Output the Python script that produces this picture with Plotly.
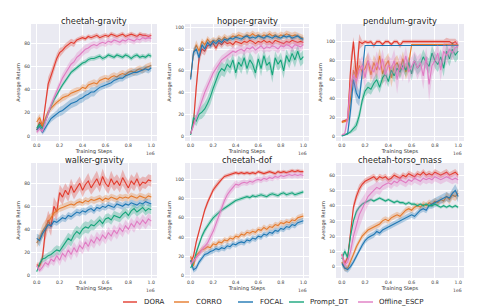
import plotly.graph_objects as go

steps = [0, 25000, 50000, 75000, 100000, 125000, 150000, 175000, 200000, 225000,
         250000, 275000, 300000, 325000, 350000, 375000, 400000, 425000, 450000, 475000,
         500000, 525000, 550000, 575000, 600000, 625000, 650000, 675000, 700000, 725000,
         750000, 775000, 800000, 825000, 850000, 875000, 900000, 925000, 950000, 975000,
         1000000]

methods = ["DORA", "CORRO", "FOCAL", "Prompt_DT", "Offline_ESCP"]
titles = ["cheetah-gravity", "hopper-gravity", "pendulum-gravity",
          "walker-gravity", "cheetah-dof", "cheetah-torso_mass"]
xtick_vals = [0, 200000, 400000, 600000, 800000, 1000000]
xtick_text = ["0.0", "0.2", "0.4", "0.6", "0.8", "1.0"]

# ---------------- cheetah-gravity ----------------
cg_dora = [5, 12, 8, 28, 45, 52, 60, 67, 72, 74, 77, 79, 81, 80, 83, 84, 85, 84, 86, 85,
           86, 87, 85, 86, 87, 86, 88, 87, 86, 87, 88, 86, 87, 88, 87, 86, 88, 87, 87, 86, 87]
cg_corro = [12, 16, 9, 15, 21, 24, 27, 29, 31, 33, 34, 35, 37, 38, 39, 40, 42, 41, 44, 45,
            46, 45, 48, 49, 50, 49, 51, 52, 51, 53, 54, 53, 55, 56, 55, 57, 58, 57, 59, 60, 61]
cg_focal = [5, 8, 3, 7, 12, 15, 17, 19, 21, 22, 24, 26, 28, 29, 30, 32, 33, 35, 36, 38,
            38, 40, 42, 43, 44, 45, 46, 48, 49, 50, 50, 52, 53, 54, 55, 55, 56, 57, 58, 57, 59]
cg_prompt = [7, 10, 6, 13, 20, 26, 31, 36, 40, 44, 48, 51, 55, 57, 59, 61, 63, 64, 66, 67,
             67, 68, 69, 67, 68, 70, 69, 68, 70, 69, 68, 70, 69, 67, 69, 70, 68, 69, 68, 70, 69]
cg_escp = [3, 6, 4, 12, 20, 27, 33, 39, 45, 50, 54, 58, 62, 64, 68, 70, 73, 75, 76, 78,
           79, 78, 80, 81, 80, 82, 81, 83, 82, 81, 83, 82, 84, 83, 82, 84, 83, 85, 84, 85, 84]
cg_dora_sd = [2, 3, 3, 5, 6, 5, 5, 4, 4, 3, 3, 3, 3, 3, 2, 2, 2, 2, 2, 2,
              2, 2, 2, 2, 2, 2, 2, 2, 2, 2, 2, 2, 2, 2, 2, 2, 2, 2, 2, 2, 2]
cg_corro_sd = [3, 3, 2, 3, 3, 3, 3, 2, 3, 3, 3, 2, 3, 3, 3, 2, 3, 3, 3, 3,
               3, 3, 3, 3, 3, 3, 3, 3, 3, 3, 3, 3, 3, 3, 3, 3, 3, 3, 3, 3, 3]
cg_focal_sd = [2, 2, 2, 3, 3, 3, 3, 3, 4, 4, 4, 4, 4, 4, 4, 4, 4, 4, 4, 4,
               4, 3, 3, 3, 3, 3, 3, 3, 3, 3, 3, 3, 3, 3, 3, 3, 3, 3, 3, 3, 3]
cg_prompt_sd = [2, 2, 2, 2, 2, 2, 2, 2, 2, 2, 2, 2, 2, 2, 2, 2, 2, 2, 2, 2,
                2, 2, 2, 2, 2, 2, 2, 2, 2, 2, 2, 2, 2, 2, 2, 2, 2, 2, 2, 2, 2]
cg_escp_sd = [2, 2, 2, 3, 3, 3, 3, 3, 4, 4, 4, 4, 4, 4, 4, 4, 4, 4, 4, 3,
              3, 3, 3, 3, 3, 3, 3, 3, 3, 3, 3, 3, 3, 3, 3, 3, 3, 3, 3, 3, 3]

# ---------------- hopper-gravity ----------------
hg_dora = [2, 12, 45, 72, 80, 78, 83, 84, 85, 81, 86, 84, 87, 85, 86, 84, 87, 86, 85, 87,
           86, 88, 87, 85, 87, 86, 88, 86, 87, 85, 88, 87, 86, 85, 87, 86, 88, 87, 86, 87, 86]
hg_corro = [54, 76, 84, 78, 87, 84, 89, 86, 88, 87, 90, 88, 91, 89, 90, 92, 91, 93, 92, 91,
            93, 92, 94, 92, 93, 91, 93, 92, 94, 92, 93, 91, 93, 92, 94, 93, 92, 93, 92, 91, 90]
hg_focal = [52, 77, 80, 72, 84, 80, 86, 83, 87, 85, 88, 86, 89, 88, 90, 89, 91, 90, 89, 91,
            92, 90, 91, 90, 92, 91, 90, 92, 91, 90, 92, 91, 90, 92, 91, 92, 90, 91, 92, 90, 89]
hg_prompt = [1, 17, 14, 20, 22, 25, 30, 36, 44, 52, 58, 62, 60, 66, 63, 70, 58, 68, 64, 72,
             62, 70, 66, 58, 71, 62, 74, 65, 68, 56, 72, 66, 70, 60, 74, 68, 76, 70, 78, 70, 73]
hg_escp = [2, 10, 18, 26, 34, 40, 46, 52, 58, 62, 66, 70, 72, 74, 76, 78, 77, 79, 80, 78,
           81, 80, 82, 79, 81, 83, 80, 82, 81, 83, 82, 80, 83, 82, 84, 83, 81, 84, 83, 82, 84]
hg_dora_sd = [1, 4, 8, 6, 4, 4, 3, 3, 3, 3, 3, 3, 3, 3, 3, 3, 3, 3, 3, 3,
              3, 3, 3, 3, 3, 3, 3, 3, 3, 3, 3, 3, 3, 3, 3, 3, 3, 3, 3, 3, 3]
hg_corro_sd = [3, 4, 4, 4, 3, 3, 3, 3, 3, 3, 3, 3, 3, 3, 3, 3, 3, 3, 3, 3,
               3, 3, 3, 3, 3, 3, 3, 3, 3, 3, 3, 3, 3, 3, 3, 3, 3, 3, 3, 3, 3]
hg_focal_sd = [3, 4, 4, 4, 3, 3, 3, 3, 3, 3, 3, 3, 2, 2, 2, 2, 2, 2, 2, 2,
               2, 2, 2, 2, 2, 2, 2, 2, 2, 2, 2, 2, 2, 2, 2, 2, 2, 2, 2, 2, 2]
hg_prompt_sd = [1, 4, 5, 5, 6, 6, 6, 7, 7, 7, 7, 6, 6, 6, 6, 6, 7, 6, 7, 6,
                6, 7, 7, 6, 6, 7, 6, 6, 7, 7, 6, 6, 7, 7, 6, 6, 6, 7, 6, 6, 6]
hg_escp_sd = [1, 3, 4, 5, 6, 6, 6, 6, 5, 5, 5, 4, 4, 4, 4, 4, 4, 4, 4, 4,
              4, 4, 4, 4, 4, 4, 4, 4, 4, 4, 4, 4, 4, 4, 4, 4, 4, 4, 4, 4, 4]

# ---------------- pendulum-gravity ----------------
pg_dora = [16, 17, 18, 70, 100, 62, 100, 98, 100, 99, 100, 96, 100, 100, 97, 100, 100, 97, 100, 100,
           96, 100, 100, 100, 100, 100, 100, 100, 100, 100, 100, 100, 100, 100, 100, 100, 100, 100, 98, 100, 96]
pg_corro = [15, 16, 17, 40, 70, 62, 75, 68, 72, 80, 65, 78, 70, 85, 66, 75, 80, 62, 74, 78,
            70, 82, 68, 76, 97, 97, 97, 97, 97, 97, 97, 97, 97, 97, 97, 97, 97, 97, 97, 97, 97]
pg_focal = [1, 2, 3, 28, 60, 46, 40, 66, 96, 96, 96, 96, 96, 96, 96, 96, 96, 96, 96, 96,
            96, 96, 96, 96, 96, 96, 96, 96, 96, 96, 96, 96, 96, 96, 96, 96, 96, 96, 96, 96, 96]
pg_prompt = [1, 2, 3, 5, 8, 12, 22, 38, 48, 52, 50, 56, 60, 52, 62, 66, 58, 70, 64, 72,
             68, 75, 70, 78, 66, 80, 72, 76, 84, 78, 74, 88, 80, 76, 84, 72, 90, 82, 92, 86, 90]
pg_escp = [2, 3, 20, 55, 65, 58, 70, 75, 62, 80, 72, 68, 78, 70, 82, 65, 75, 72, 80, 60,
           77, 70, 85, 68, 74, 80, 72, 78, 64, 84, 55, 75, 80, 88, 70, 90, 85, 92, 88, 94, 95]
pg_dora_sd = [1, 1, 2, 15, 5, 15, 8, 3, 2, 2, 2, 3, 2, 2, 2, 2, 2, 2, 2, 2,
              3, 2, 2, 2, 2, 2, 2, 2, 2, 2, 2, 2, 2, 2, 2, 2, 4, 3, 5, 3, 4]
pg_corro_sd = [1, 1, 2, 10, 8, 8, 8, 8, 10, 8, 8, 8, 10, 8, 12, 8, 8, 10, 8, 8,
               8, 8, 8, 8, 0, 0, 0, 0, 0, 0, 0, 0, 0, 0, 0, 0, 0, 0, 0, 0, 0]
pg_focal_sd = [1, 1, 1, 10, 10, 10, 8, 8, 0, 0, 0, 0, 0, 0, 0, 0, 0, 0, 0, 0,
               0, 0, 0, 0, 0, 0, 0, 0, 0, 0, 0, 0, 0, 0, 0, 0, 0, 0, 0, 0, 0]
pg_prompt_sd = [1, 1, 1, 2, 3, 5, 6, 6, 6, 6, 6, 6, 7, 6, 6, 7, 6, 6, 7, 6,
                7, 6, 7, 6, 7, 8, 7, 7, 8, 7, 8, 8, 8, 8, 8, 9, 8, 8, 8, 8, 8]
pg_escp_sd = [1, 1, 8, 10, 10, 10, 10, 10, 12, 10, 10, 10, 12, 10, 10, 12, 10, 10, 12, 15,
              10, 12, 10, 12, 10, 10, 12, 10, 14, 10, 18, 12, 10, 10, 12, 10, 10, 8, 8, 6, 6]

# ---------------- walker-gravity ----------------
wg_dora = [9, 8, 15, 38, 48, 42, 60, 55, 72, 68, 74, 70, 78, 72, 76, 80, 74, 79, 82, 76,
           80, 84, 78, 86, 80, 77, 84, 79, 82, 78, 85, 80, 76, 82, 79, 84, 78, 81, 80, 83, 82]
wg_corro = [28, 32, 38, 42, 47, 50, 54, 56, 58, 59, 60, 61, 62, 61, 63, 64, 63, 65, 64, 66,
            65, 66, 67, 65, 67, 66, 68, 67, 66, 68, 67, 68, 67, 69, 68, 67, 69, 68, 67, 69, 68]
wg_focal = [32, 30, 36, 40, 44, 43, 47, 46, 48, 50, 49, 52, 51, 53, 55, 54, 56, 55, 57, 58,
            56, 59, 58, 60, 59, 61, 60, 59, 62, 61, 60, 62, 61, 63, 62, 61, 63, 62, 64, 63, 62]
wg_prompt = [3, 10, 14, 15, 17, 18, 20, 22, 21, 25, 28, 32, 30, 35, 38, 36, 40, 42, 41, 44,
             43, 46, 48, 45, 49, 50, 48, 52, 51, 50, 53, 55, 52, 56, 58, 55, 57, 59, 56, 58, 57]
wg_escp = [8, 4, 7, 11, 9, 14, 12, 17, 13, 19, 16, 22, 18, 24, 20, 26, 23, 29, 25, 31,
           28, 33, 30, 35, 32, 37, 34, 39, 36, 41, 38, 43, 40, 45, 42, 47, 44, 48, 45, 49, 47]
wg_dora_sd = [2, 3, 5, 8, 8, 8, 8, 8, 7, 7, 6, 6, 6, 6, 6, 6, 6, 6, 7, 6,
              6, 7, 6, 7, 6, 6, 7, 6, 6, 6, 7, 6, 6, 6, 6, 6, 6, 5, 5, 5, 5]
wg_corro_sd = [4, 5, 6, 6, 5, 4, 3, 3, 3, 3, 3, 3, 3, 3, 3, 3, 3, 3, 3, 3,
               3, 3, 3, 3, 3, 3, 3, 3, 3, 3, 3, 3, 3, 3, 3, 3, 3, 3, 3, 3, 3]
wg_focal_sd = [4, 5, 4, 4, 3, 3, 3, 3, 3, 3, 3, 3, 3, 3, 3, 3, 3, 3, 3, 3,
               3, 3, 3, 3, 3, 3, 3, 3, 3, 3, 3, 3, 3, 3, 3, 3, 3, 3, 3, 3, 3]
wg_prompt_sd = [1, 2, 3, 3, 3, 3, 4, 4, 4, 4, 5, 5, 5, 5, 5, 5, 5, 5, 5, 5,
                4, 4, 4, 4, 4, 4, 4, 4, 4, 4, 4, 4, 4, 4, 4, 4, 4, 4, 4, 4, 4]
wg_escp_sd = [2, 2, 3, 3, 3, 4, 4, 4, 5, 5, 5, 5, 5, 5, 5, 5, 5, 5, 5, 5,
              5, 5, 5, 5, 5, 5, 5, 5, 5, 5, 5, 5, 5, 5, 5, 5, 5, 5, 5, 5, 5]

# ---------------- cheetah-dof ----------------
cd_dora = [14, 20, 35, 47, 58, 68, 76, 83, 89, 93, 97, 100, 103, 104, 105, 106, 107, 106, 107, 106,
           107, 106, 107, 106, 108, 107, 106, 107, 108, 107, 106, 108, 107, 108, 107, 108, 109, 108, 109, 108, 108]
cd_corro = [20, 10, 21, 24, 27, 28, 30, 29, 33, 32, 35, 34, 37, 36, 39, 38, 41, 40, 43, 42,
            45, 44, 46, 45, 48, 47, 50, 48, 51, 50, 53, 52, 55, 54, 56, 55, 58, 57, 60, 61, 62]
cd_focal = [16, 6, 8, 14, 18, 22, 23, 25, 26, 28, 27, 29, 28, 31, 30, 33, 32, 34, 35, 34,
            37, 36, 39, 38, 41, 40, 43, 42, 45, 44, 47, 46, 49, 48, 51, 50, 53, 52, 55, 56, 57]
cd_prompt = [8, 14, 24, 33, 41, 47, 52, 56, 60, 63, 66, 68, 70, 72, 74, 76, 78, 79, 80, 81,
             82, 81, 83, 82, 83, 84, 83, 82, 84, 85, 84, 83, 85, 86, 84, 85, 86, 84, 85, 86, 87]
cd_escp = [12, 15, 18, 22, 27, 30, 34, 40, 46, 54, 61, 70, 78, 84, 88, 92, 95, 94, 96, 97,
           96, 98, 97, 99, 100, 99, 101, 100, 102, 101, 103, 102, 104, 103, 104, 105, 104, 105, 104, 105, 104]
cd_dora_sd = [3, 3, 3, 3, 3, 3, 3, 3, 3, 3, 3, 2, 2, 2, 2, 2, 2, 2, 2, 2,
              2, 2, 2, 2, 2, 2, 2, 2, 2, 2, 2, 2, 2, 2, 2, 2, 2, 2, 2, 2, 2]
cd_corro_sd = [4, 4, 3, 3, 3, 3, 3, 3, 3, 3, 3, 3, 3, 3, 3, 3, 3, 3, 3, 3,
               3, 3, 3, 3, 3, 3, 3, 3, 3, 3, 3, 3, 3, 3, 3, 3, 3, 3, 3, 3, 3]
cd_focal_sd = [3, 3, 3, 3, 3, 3, 3, 3, 3, 3, 3, 3, 3, 3, 3, 3, 3, 3, 3, 3,
               3, 3, 3, 3, 3, 3, 3, 3, 3, 3, 3, 3, 3, 3, 3, 3, 3, 3, 3, 3, 3]
cd_prompt_sd = [2, 2, 3, 3, 3, 3, 3, 3, 3, 3, 2, 2, 2, 2, 2, 2, 2, 2, 2, 2,
                2, 2, 2, 2, 2, 2, 2, 2, 2, 2, 2, 2, 2, 2, 2, 2, 2, 2, 2, 2, 2]
cd_escp_sd = [2, 2, 3, 3, 4, 4, 5, 5, 6, 6, 6, 6, 5, 5, 4, 4, 4, 3, 3, 3,
              3, 3, 3, 3, 3, 3, 3, 3, 3, 3, 3, 3, 3, 3, 3, 3, 3, 3, 3, 3, 3]

# ---------------- cheetah-torso_mass ----------------
tm_dora = [8, 2, 6, 22, 39, 46, 51, 54, 56, 57, 58, 59, 57, 59, 58, 59, 57, 58, 60, 59,
           58, 60, 59, 61, 60, 59, 61, 60, 62, 60, 61, 60, 62, 61, 60, 61, 62, 60, 61, 62, 60]
tm_corro = [3, -1, -1, 3, 8, 13, 17, 20, 22, 24, 25, 26, 27, 28, 30, 31, 30, 32, 33, 34,
            33, 35, 37, 38, 37, 39, 40, 39, 41, 40, 42, 41, 43, 42, 44, 43, 46, 44, 47, 46, 48]
tm_focal = [2, -1, -2, 0, 3, 7, 11, 14, 17, 19, 20, 21, 23, 22, 24, 25, 26, 27, 28, 29,
            30, 31, 32, 33, 34, 33, 35, 37, 38, 37, 40, 41, 42, 43, 44, 45, 46, 45, 48, 50, 46]
tm_prompt = [5, 10, 6, 20, 30, 36, 39, 41, 42, 43, 44, 43, 44, 45, 44, 43, 44, 43, 42, 43,
             42, 42, 41, 42, 41, 41, 40, 41, 40, 41, 40, 40, 41, 40, 39, 40, 39, 40, 39, 40, 39]
tm_escp = [8, 1, 3, 10, 20, 28, 34, 38, 42, 46, 48, 50, 52, 51, 53, 54, 55, 54, 56, 55,
           57, 56, 55, 57, 56, 58, 57, 56, 58, 57, 58, 57, 59, 58, 57, 58, 59, 58, 57, 58, 57]
tm_dora_sd = [2, 2, 2, 3, 3, 3, 3, 2, 2, 2, 2, 2, 2, 2, 2, 2, 2, 2, 2, 2,
              2, 2, 2, 2, 2, 2, 2, 2, 2, 2, 2, 2, 2, 2, 2, 2, 2, 2, 2, 2, 2]
tm_corro_sd = [2, 2, 2, 2, 2, 2, 2, 2, 2, 2, 2, 2, 2, 2, 2, 2, 2, 2, 2, 2,
               2, 2, 2, 2, 2, 2, 2, 2, 2, 2, 2, 2, 2, 2, 2, 2, 3, 3, 3, 3, 3]
tm_focal_sd = [2, 2, 2, 2, 2, 2, 2, 2, 2, 2, 2, 2, 2, 2, 2, 2, 2, 2, 2, 2,
               2, 2, 2, 2, 2, 2, 2, 2, 2, 2, 2, 3, 3, 3, 3, 3, 3, 3, 3, 4, 4]
tm_prompt_sd = [2, 2, 2, 2, 2, 2, 1, 1, 1, 1, 1, 1, 1, 1, 1, 1, 1, 1, 1, 1,
                1, 1, 1, 1, 1, 1, 1, 1, 1, 1, 1, 1, 1, 1, 1, 1, 1, 1, 1, 1, 1]
tm_escp_sd = [2, 2, 3, 5, 7, 8, 8, 7, 6, 6, 5, 4, 4, 4, 3, 3, 3, 3, 3, 3,
              3, 3, 3, 3, 3, 3, 3, 3, 3, 3, 3, 3, 3, 3, 3, 3, 3, 3, 3, 3, 3]

panel_means = [
    [cg_dora, cg_corro, cg_focal, cg_prompt, cg_escp],
    [hg_dora, hg_corro, hg_focal, hg_prompt, hg_escp],
    [pg_dora, pg_corro, pg_focal, pg_prompt, pg_escp],
    [wg_dora, wg_corro, wg_focal, wg_prompt, wg_escp],
    [cd_dora, cd_corro, cd_focal, cd_prompt, cd_escp],
    [tm_dora, tm_corro, tm_focal, tm_prompt, tm_escp],
]
panel_sds = [
    [cg_dora_sd, cg_corro_sd, cg_focal_sd, cg_prompt_sd, cg_escp_sd],
    [hg_dora_sd, hg_corro_sd, hg_focal_sd, hg_prompt_sd, hg_escp_sd],
    [pg_dora_sd, pg_corro_sd, pg_focal_sd, pg_prompt_sd, pg_escp_sd],
    [wg_dora_sd, wg_corro_sd, wg_focal_sd, wg_prompt_sd, wg_escp_sd],
    [cd_dora_sd, cd_corro_sd, cd_focal_sd, cd_prompt_sd, cd_escp_sd],
    [tm_dora_sd, tm_corro_sd, tm_focal_sd, tm_prompt_sd, tm_escp_sd],
]
y_ranges = [[-4.4, 96.8], [-4.5, 103], [-4.6, 118.6], [-2.5, 97.7], [-2.5, 117], [-7.5, 68]]
y_ticks = [[0, 20, 40, 60, 80], [0, 20, 40, 60, 80, 100], [0, 20, 40, 60, 80, 100],
           [0, 20, 40, 60, 80], [0, 20, 40, 60, 80, 100], [0, 10, 20, 30, 40, 50, 60]]

# ---------------- styling ----------------
W, H = 479, 308
colors = ["#e23b2e", "#e57a2c", "#1f77b4", "#17a57b", "#e07cc3"]
fills = ["rgba(226,59,46,0.3)", "rgba(229,122,44,0.3)", "rgba(31,119,180,0.3)",
         "rgba(23,165,123,0.3)", "rgba(224,124,195,0.3)"]
col_px = [(31, 157), (185, 309), (336, 464)]
row_px = [(24, 141), (163, 278)]
FONT = "DejaVu Sans"

fig = go.Figure()
layout = dict(width=W, height=H, margin=dict(l=0, r=0, t=0, b=0, autoexpand=False),
              paper_bgcolor="white", plot_bgcolor="#EAEAF2", showlegend=False,
              font=dict(family=FONT, color="#262626"))
annotations = []
shapes = []

for p in range(6):
    r, c = divmod(p, 3)
    ax = "" if p == 0 else str(p + 1)
    xd = [col_px[c][0] / W, col_px[c][1] / W]
    yd = [(H - row_px[r][1]) / H, (H - row_px[r][0]) / H]
    for m in range(5):
        mean = panel_means[p][m]
        sd = panel_sds[p][m]
        upper = [a + b for a, b in zip(mean, sd)]
        lower = [a - b for a, b in zip(mean, sd)]
        fig.add_trace(go.Scatter(x=steps + steps[::-1], y=upper + lower[::-1],
                                 fill="toself", fillcolor=fills[m], line=dict(width=0),
                                 mode="lines", hoverinfo="skip",
                                 xaxis="x" + ax, yaxis="y" + ax))
        fig.add_trace(go.Scatter(x=steps, y=mean, mode="lines", name=methods[m],
                                 line=dict(color=colors[m], width=1.1),
                                 xaxis="x" + ax, yaxis="y" + ax))
    layout["xaxis" + ax] = dict(
        domain=xd, anchor="y" + ax, range=[-50000, 1050000], automargin=False,
        tickvals=xtick_vals, ticktext=xtick_text, showgrid=True, gridcolor="white",
        gridwidth=0.9, zeroline=False, showline=False, ticks="",
        tickfont=dict(size=4.6, color="#444444"),
        title=dict(text="Training Steps", font=dict(size=5.2, color="#333333"), standoff=2))
    layout["yaxis" + ax] = dict(
        domain=yd, anchor="x" + ax, range=y_ranges[p], tickvals=y_ticks[p], automargin=False,
        showgrid=True, gridcolor="white", gridwidth=0.9, zeroline=False, showline=False,
        ticks="", tickfont=dict(size=4.6, color="#444444"),
        title=dict(text="Average Return", font=dict(size=5.0, color="#333333"), standoff=3))
    annotations.append(dict(text=titles[p], xref="paper", yref="paper",
                            x=(xd[0] + xd[1]) / 2, y=yd[1], xanchor="center", yanchor="bottom",
                            yshift=-4, showarrow=False, font=dict(size=8.3, color="#262626")))
    annotations.append(dict(text="1e6", xref="paper", yref="paper", x=xd[1], y=yd[0],
                            xanchor="right", yanchor="top", yshift=-8, showarrow=False,
                            font=dict(size=4.6, color="#444444")))

# legend drawn at the bottom
leg_y = (H - 302) / H
leg_line = [(123, 137), (174, 189), (238, 253), (289, 304), (358, 373)]
leg_text = [142, 194, 258, 308, 377]
for m in range(5):
    shapes.append(dict(type="line", xref="paper", yref="paper",
                       x0=leg_line[m][0] / W, x1=leg_line[m][1] / W, y0=leg_y, y1=leg_y,
                       line=dict(color=colors[m], width=1.4)))
    annotations.append(dict(text=methods[m], xref="paper", yref="paper", x=leg_text[m] / W,
                            y=leg_y, xanchor="left", yanchor="middle", showarrow=False,
                            font=dict(size=7, color="#262626")))

layout["annotations"] = annotations
layout["shapes"] = shapes
fig.update_layout(**layout)
fig.write_html("out.html", config={"displayModeBar": False},
               post_script="document.body.style.margin='0';document.body.style.overflow='hidden';")
